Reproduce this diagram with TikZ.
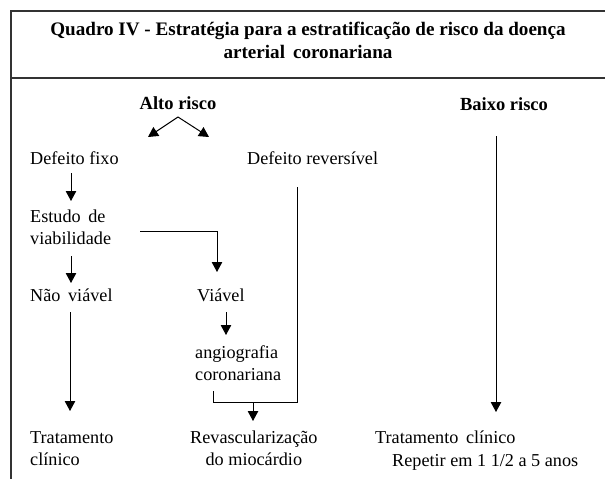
\documentclass[tikz,border=0pt]{standalone}
\usepackage{fontspec}
\setmainfont{Liberation Serif}
\usetikzlibrary{arrows.meta}
\begin{document}
\begin{tikzpicture}[x=1pt,y=-1pt,
  txt/.style={inner sep=0pt,anchor=base west,font=\fontsize{18.2}{22}\selectfont,align=left},
  hdr/.style={inner sep=0pt,anchor=base,font=\fontsize{18.5}{22}\selectfont\bfseries},
  frame/.style={line width=1.4pt,draw=black!80},
  conn/.style={line width=1pt},
  arr/.style={line width=1pt,-{Triangle[width=10.5pt,length=10pt]}}]
\useasboundingbox (0,0) rectangle (605,479);
% frame
\coordinate (tl) at (11,11);
\coordinate (tr) at (605,11);
\coordinate (ml) at (11,78);
\coordinate (mr) at (605,78);
\coordinate (bl) at (11,479);
\draw[frame] (tr) -- (tl) -- (bl);
\draw[frame] (ml) -- (mr);
% title (base anchor = last line)
\node[inner sep=0pt,anchor=base,font=\fontsize{19.1}{23}\selectfont\bfseries,align=center] (title) at (308,58)
  {Quadro IV - Estratégia para a estratificação de risco da doença\\arterial\, coronariana};
% headers
\node[hdr] (alto) at (178,109) {Alto risco};
\node[hdr] (baixo) at (504,110) {Baixo risco};
% texts
\node[txt] (fixo) at (30,164) {Defeito fixo};
\node[txt] (rev) at (247,164) {Defeito reversível};
\node[txt] (estudo) at (30,244) {Estudo\, de\\viabilidade};
\node[txt] (nao) at (30,301) {Não\, viável};
\node[txt] (viavel) at (197,301) {Viável};
\node[txt] (angio) at (195,380) {angiografia\\coronariana};
\node[txt] (trat1) at (30,465) {Tratamento\\clínico};
\node[txt,align=center] (revasc) at (190,465) {Revascularização\\do miocárdio};
\node[txt] (trat2) at (375,443) {Tratamento\, clínico};
\node[txt] (repetir) at (392,466) {Repetir em 1 1/2 a 5 anos};
% connector coordinates
\coordinate (apex) at (178,117);
\coordinate (aL) at (148,137);
\coordinate (aR) at (209,137);
\coordinate (f1) at (71,173);
\coordinate (f2) at (71,201);
\coordinate (e1) at (71,256);
\coordinate (e2) at (71,283);
\coordinate (h1) at (140,231);
\coordinate (h2) at (217,231);
\coordinate (h3) at (217,272);
\coordinate (n1) at (70,312);
\coordinate (n2) at (70,411);
\coordinate (v1) at (226,312);
\coordinate (v2) at (226,335);
\coordinate (r1) at (297,187);
\coordinate (r2) at (297,402);
\coordinate (c1) at (213,391);
\coordinate (c2) at (213,402);
\coordinate (m1) at (253,402);
\coordinate (m2) at (253,421);
\coordinate (b1) at (496,136);
\coordinate (b2) at (496,412);
% connectors
\draw[arr] (apex) -- (aL);
\draw[arr] (apex) -- (aR);
\draw[arr] (f1) -- (f2);
\draw[arr] (e1) -- (e2);
\draw[arr] (h1) -- (h2) -- (h3);
\draw[arr] (n1) -- (n2);
\draw[arr] (v1) -- (v2);
\draw[conn] (c1) -- (c2) -- (r2) -- (r1);
\draw[arr] (m1) -- (m2);
\draw[arr] (b1) -- (b2);
\end{tikzpicture}
\end{document}
